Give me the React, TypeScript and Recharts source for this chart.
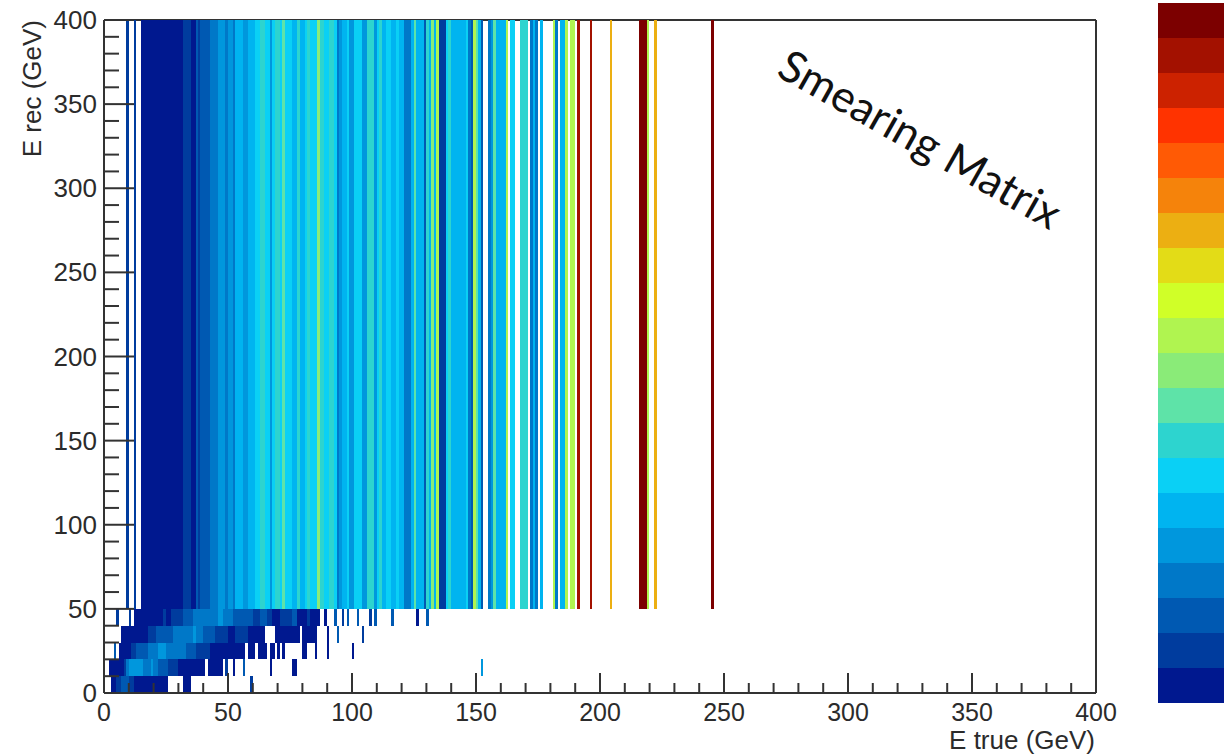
import { BarChart, Bar, XAxis, YAxis, CartesianGrid, Label } from 'recharts'

// colour steps of the palette, bottom to top of the colour bar
const PALETTE = [
  '#00188f', '#003c9e', '#0059b2', '#0078c8', '#0097dd',
  '#00b4f0', '#0ad0f5', '#2dd4cf', '#5ee3a8', '#8aeb78',
  '#b0f450', '#d0ff28', '#e3dc17', '#ecaf12', '#f5830b',
  '#ff5a05', '#ff3300', '#cc2200', '#a31100', '#7c0000',
]

const X_TICKS = [0, 10, 20, 30, 40, 50, 60, 70, 80, 90, 100, 110, 120, 130, 140, 150, 160, 170, 180, 190, 200,
  210, 220, 230, 240, 250, 260, 270, 280, 290, 300, 310, 320, 330, 340, 350, 360, 370, 380, 390, 400]
const Y_TICKS = X_TICKS

// E rec bins (GeV): five narrow rows and one wide overflow-like row
const ROW_HEIGHTS = [10, 10, 10, 10, 10, 350]

// each segment is [first E true bin, palette step per bin]
type Segment = [number, number[]]

const ROW_0_10: Segment[] = [
  [3, [0, 0, 1, 1, 2, 2, 2, 1, 1, 0, 0, 0, 0, 0, 0, 0, 0, 0, 0, 0, 0, 0, 0]],
  [32, [0, 0, 0]],
  [59, [1]],
]
const ROW_10_20: Segment[] = [
  [2, [0, 0, 0, 0, 0, 0, 1, 3, 4, 4, 4, 4, 4, 4, 3, 3, 3, 4, 3, 3, 2, 2, 2, 2, 1, 1, 1, 1, 0, 0, 0, 0, 0, 0, 0, 0, 0, 0, 0]],
  [42, [0, 0, 0, 0, 0, 0]],
  [49, [1]],
  [52, [0]],
  [56, [2]],
  [67, [0]],
  [76, [0, 0]],
  [152, [4]],
]
const ROW_20_30: Segment[] = [
  [4, [2]],
  [6, [0, 0, 0, 0, 0, 1, 1, 2, 2, 2, 2, 2, 3, 3, 3, 3, 4, 4, 4, 3, 3, 3, 3, 3, 3, 3, 3, 2, 2, 2, 2, 1, 1, 1, 1, 1, 1, 0, 0, 0, 0, 0, 0, 0, 0, 0, 0, 0, 0, 0, 0]],
  [58, [0, 0, 0]],
  [62, [0, 0, 0, 0]],
  [67, [0, 0]],
  [70, [0]],
  [72, [0]],
  [80, [0, 0]],
  [85, [0]],
  [90, [0]],
  [100, [0]],
]
const ROW_30_40: Segment[] = [
  [7, [0, 0, 0, 0, 0, 0, 0, 0, 0, 0, 0, 1, 1, 1, 2, 2, 2, 2, 2, 2, 2, 3, 3, 3, 3, 3, 3, 3, 3, 4, 3, 3, 3, 2, 2, 2, 2, 2, 1, 1, 1, 1, 1, 0, 0, 0, 1, 1, 1, 1, 1, 0, 0, 0, 0, 0, 0, 0]],
  [69, [0, 0, 0, 0, 0, 0, 0, 0, 0, 0]],
  [80, [0, 0, 0, 0, 0, 0]],
  [90, [0]],
  [94, [2]],
  [104, [1]],
]
const ROW_40_50: Segment[] = [
  [5, [1]],
  [10, [1]],
  [12, [0, 0, 0, 0, 0, 0, 0, 0, 0, 0, 0, 0, 1, 0, 0, 1, 1, 1, 1, 1, 2, 2, 2, 2, 3, 3, 3, 3, 3, 3, 3, 3, 3, 3, 4, 4, 3, 3, 3, 3, 2, 2, 2, 2, 2, 2, 2, 2, 1, 1, 1, 2, 2, 2, 1, 1, 0, 0, 0, 1, 1, 1, 1, 1, 2, 2]],
  [78, [0, 0, 0, 0, 1, 0, 0, 0, 0]],
  [89, [0]],
  [93, [2]],
  [96, [1]],
  [98, [2]],
  [102, [2]],
  [107, [1]],
  [109, [2]],
  [116, [2]],
  [126, [0]],
  [130, [2]],
]
const ROW_50_400: Segment[] = [
  [9, [1]],
  [12, [1]],
  [15, [0, 0, 0, 0, 0, 0, 0, 0, 0, 0, 0, 0, 0, 0, 0, 0, 0]],
  [32, [1, 1, 1, 0, 0, 2, 1, 2, 2, 2, 2, 3, 3, 3, 4, 4, 4, 3, 4, 4, 3, 5, 5, 5, 4, 4, 5, 5, 5, 6, 6]],
  [63, [7, 7, 6, 6, 4, 6, 7, 7, 6, 8, 6, 6, 6, 5, 5, 7, 5, 5, 6, 7, 6, 6, 6, 9, 7, 7, 6, 6, 7, 7, 6, 3, 4, 5, 5, 6, 4, 4, 6, 6, 6, 4, 4, 7, 7, 7, 4, 6, 7, 5]],
  [113, [5, 6, 6, 5, 5, 6, 5, 5, 3, 3, 3, 5, 8, 5, 5, 5, 2, 7, 5, 9, 5, 10, 1, 1, 1, 6, 7, 5, 5, 5, 5, 5, 5, 6, 3, 2, 10, 8, 5, 2]],
  [155, [3, 4, 8, 5, 5, 5, 5, 10]],
  [164, [6, 6]],
  [168, [7, 7, 7]],
  [172, [3, 5, 3]],
  [176, [5]],
  [181, [10, 3]],
  [184, [5, 5, 10]],
  [188, [10, 10]],
  [191, [18]],
  [196, [18]],
  [204, [13]],
  [216, [19, 19, 19, 10]],
  [222, [13]],
  [245, [19]],
]

const ROWS = [ROW_0_10, ROW_10_20, ROW_20_30, ROW_30_40, ROW_40_50, ROW_50_400]

const BIN_COUNT = 400
const BINS = Array.from({ length: BIN_COUNT }, (_, i) => i)

function expandRow(segments: Segment[]) {
  const levels: number[] = new Array(BIN_COUNT).fill(-1)
  for (const [first, steps] of segments) {
    steps.forEach((s, i) => { levels[first + i] = s })
  }
  return levels
}

const ROW_LEVELS = ROWS.map(expandRow)

const tableData = BINS.map((b) => {
  const row: Record<string, number> = { x: b + 0.5 }
  ROW_HEIGHTS.forEach((h, i) => { row[`r${i}`] = h })
  return row
})

const colorbarData = [Object.fromEntries(PALETTE.map((_, i) => [`s${i}`, 1]))]

const AXIS_COLOR = '#333333'
const TEXT_COLOR = '#2b2b2b'
const FONT = '"Liberation Sans", Arial, sans-serif'
const PLOT_WIDTH = 992

function XTick({ x, y, payload }: any) {
  const major = payload.value % 50 === 0
  return (
    <g>
      <line x1={x} x2={x} y1={y} y2={y - (major ? 20 : 10)} stroke={AXIS_COLOR} strokeWidth={2} />
      {major && (
        <text x={x} y={y + 28} textAnchor="middle" fontSize={25} fontFamily={FONT} fill={TEXT_COLOR}>
          {payload.value}
        </text>
      )}
    </g>
  )
}

function YTick({ x, y, payload }: any) {
  const major = payload.value % 50 === 0
  return (
    <g>
      <line x1={x} x2={x + (major ? 30 : 15)} y1={y} y2={y} stroke={AXIS_COLOR} strokeWidth={2} />
      {major && (
        <text x={x - 7} y={y + 9} textAnchor="end" fontSize={26} fontFamily={FONT} fill={TEXT_COLOR}>
          {payload.value}
        </text>
      )}
    </g>
  )
}

// recharts floors bar widths to whole pixels, so the cell is redrawn at the full bin width
function matrixCell(rowIndex: number) {
  return (props: any) => {
    const level = ROW_LEVELS[rowIndex][props.index]
    if (level < 0) return <g />
    const binWidth = PLOT_WIDTH / BIN_COUNT
    const center = props.x + props.width / 2
    return (
      <rect
        x={center - binWidth / 2}
        y={props.y}
        width={binWidth}
        height={props.height}
        fill={PALETTE[level]}
        shapeRendering="crispEdges"
      />
    )
  }
}

export default function App() {
  return (
    <div style={{ position: 'absolute', left: 0, top: 0, width: 1224, height: 756, background: '#fff', overflow: 'hidden' }}>
      <BarChart
        width={1224}
        height={756}
        data={tableData}
        margin={{ top: 20, right: 128, bottom: 0, left: 0 }}
        barCategoryGap={0}
      >
        <CartesianGrid stroke={AXIS_COLOR} strokeWidth={2} horizontalValues={[400]} verticalValues={[400]} />
        <XAxis
          type="number"
          dataKey="x"
          domain={[0, 400]}
          ticks={X_TICKS}
          interval={0}
          height={63}
          tickSize={0}
          tickMargin={0}
          tickLine={false}
          tick={XTick}
          stroke={AXIS_COLOR}
          strokeWidth={2}
        >
          <Label
            content={({ viewBox }: any) => (
              <text x={viewBox.x + viewBox.width - 1} y={viewBox.y + 56} textAnchor="end" fontSize={26} fontFamily={FONT} fill={TEXT_COLOR}>
                E true (GeV)
              </text>
            )}
          />
        </XAxis>
        <YAxis
          type="number"
          domain={[0, 400]}
          ticks={Y_TICKS}
          interval={0}
          width={104}
          tickSize={0}
          tickMargin={0}
          tickLine={false}
          tick={YTick}
          stroke={AXIS_COLOR}
          strokeWidth={2}
        >
          <Label
            content={({ viewBox }: any) => (
              <text
                transform={`translate(${viewBox.x + 41},${viewBox.y}) rotate(-90)`}
                textAnchor="end"
                fontSize={26}
                fontFamily={FONT}
                fill={TEXT_COLOR}
              >
                E rec (GeV)
              </text>
            )}
          />
        </YAxis>
        {ROW_HEIGHTS.map((_, i) => (
          <Bar key={i} dataKey={`r${i}`} stackId="m" isAnimationActive={false} shape={matrixCell(i)} />
        ))}
      </BarChart>

      <div style={{ position: 'absolute', left: 1158, top: 3 }}>
        <BarChart width={66} height={700} data={colorbarData} margin={{ top: 0, right: 0, bottom: 0, left: 0 }} barCategoryGap={0}>
          <XAxis hide />
          <YAxis hide domain={[0, PALETTE.length]} />
          {PALETTE.map((color, i) => (
            <Bar key={i} dataKey={`s${i}`} stackId="c" fill={color} isAnimationActive={false} />
          ))}
        </BarChart>
      </div>

      <div
        style={{
          position: 'absolute',
          left: 921,
          top: 138,
          transform: 'translate(-50%, -50%) rotate(29.5deg)',
          whiteSpace: 'nowrap',
          fontFamily: 'Lato, sans-serif',
          fontSize: 44,
          color: '#111',
        }}
      >
        Smearing Matrix
      </div>
    </div>
  )
}
